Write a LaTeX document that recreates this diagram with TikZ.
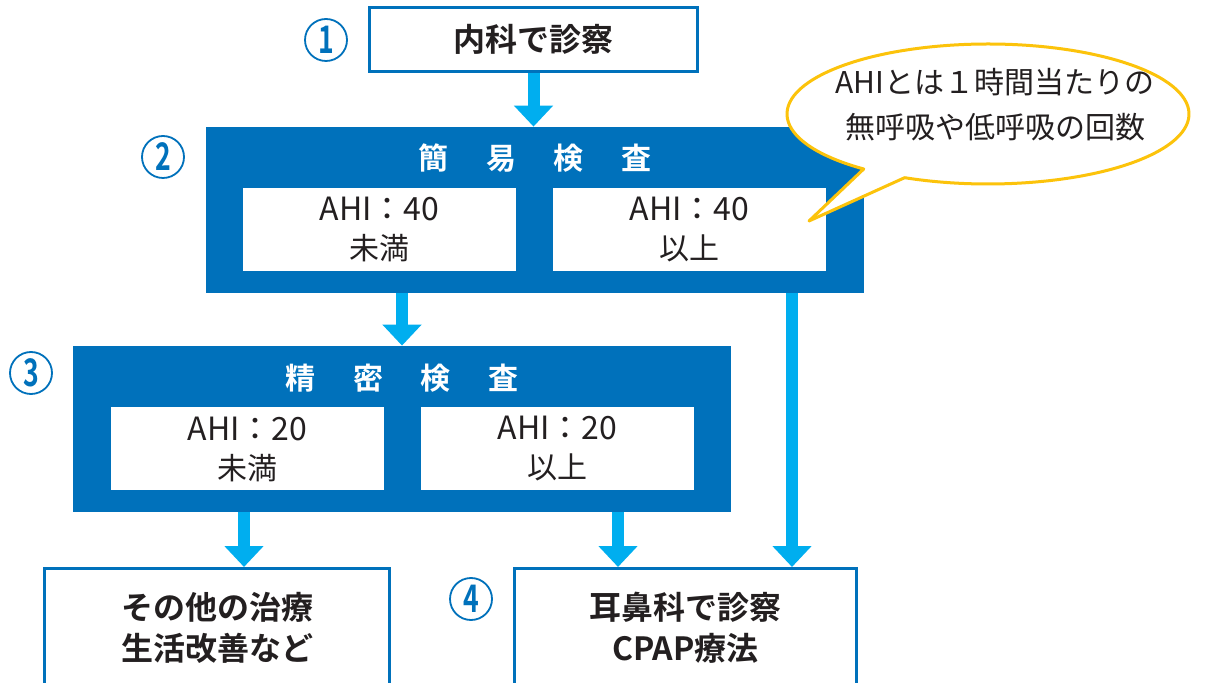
\documentclass[tikz,border=0pt]{standalone}
\usepackage{fontspec}
\setmainfont{Noto Sans CJK JP}[BoldFont={Noto Sans CJK JP Bold}]
\usetikzlibrary{arrows.meta,calc}
\definecolor{boxblue}{HTML}{0071BB}
\definecolor{arrowcyan}{HTML}{00AEEF}
\definecolor{bubbleyellow}{HTML}{FCC30B}
\definecolor{inkgray}{HTML}{231F20}
\tikzset{
  flow/.style={line width=6pt, arrowcyan, -{Triangle[width=19pt,length=10.5pt]}},
  outlinebox/.style={draw=boxblue, line width=1.5pt, fill=white, text=inkgray,
    font=\bfseries\fontsize{16}{20.5}\selectfont, align=center, inner sep=0pt},
  testbox/.style={fill=boxblue, minimum width=329pt, minimum height=83pt, inner sep=0pt},
  resultbox/.style={fill=white, minimum width=136.5pt, minimum height=41.5pt, inner sep=0pt,
    text=inkgray, font=\fontsize{15}{19.5}\selectfont, align=center},
  testtitle/.style={text=white, font=\bfseries\fontsize{15}{15}\selectfont},
  stepnum/.style={circle, draw=boxblue, line width=0.9pt, minimum size=21pt, inner sep=0pt,
    text=boxblue, font=\bfseries\fontsize{19}{19}\selectfont},
  bubble/.style={draw=bubbleyellow, line width=1.5pt, fill=white, line join=round}
}
\newcommand{\ahi}[1]{{\fontsize{16}{19.5}\selectfont AHI：#1}}

\begin{document}
\begin{tikzpicture}[x=0.5pt, y=-0.5pt]
\clip (0,0) rectangle (1209,683);
\fill[white] (0,0) rectangle (1209,683);

% step 1
\node[outlinebox, minimum width=164pt, minimum height=32pt] (naika) at (533.5,39.5) {内科で診察};
\node[stepnum] (n1) at (326,40) {\scalebox{.7}[1]{1}};

% step 2
\node[testbox] (kani) at (535,210) {};
\node[testtitle] (kanititle) at (535,158) {簡\hspace{1.25em}易\hspace{1.25em}検\hspace{1.25em}査};
\node[resultbox] (miman1) at (379.5,229.5) {\ahi{40}\\未満};
\node[resultbox] (ijou1) at (689.5,229.5) {\ahi{40}\\以上};
\node[stepnum] (n2) at (163,157) {\scalebox{.7}[1]{2}};

% step 3
\node[testbox] (seimitsu) at (402,429) {};
\node[testtitle] (seimitsutitle) at (402,378) {精\hspace{1.25em}密\hspace{1.25em}検\hspace{1.25em}査};
\node[resultbox] (miman2) at (247.5,449) {\ahi{20}\\未満};
\node[resultbox] (ijou2) at (557.5,449) {\ahi{20}\\以上};
\node[stepnum] (n3) at (31,373) {\scalebox{.7}[1]{3}};

% step 4
\node[outlinebox, minimum width=172.5pt, minimum height=59pt] (sonota) at (217,627.5) {その他の治療\\生活改善など};
\node[outlinebox, minimum width=171pt, minimum height=59pt] (jibi) at (685.5,627.5) {耳鼻科で診察\\CPAP療法};
\node[stepnum] (n4) at (471,599) {\scalebox{.7}[1]{4}};

% arrows
\coordinate (toSonota) at ([xshift=13.5pt]sonota.north);
\coordinate (toJibiL) at ([xshift=-33.75pt]jibi.north);
\coordinate (toJibiR) at ([xshift=53.25pt]jibi.north);
\draw[flow] (naika.south) -- (naika.south |- kani.north);
\draw[flow] (kani.south -| seimitsu.north) -- (seimitsu.north);
\draw[flow] (kani.south -| toJibiR) -- (toJibiR);
\draw[flow] (seimitsu.south -| toSonota) -- (toSonota);
\draw[flow] (seimitsu.south -| toJibiL) -- (toJibiL);

% speech bubble
\coordinate (bc) at (988,114);
\coordinate (tip) at (809,221);
\draw[bubble] (tip) -- ($(bc)+(128.2:201 and 70)$)
  arc[start angle=128.2, end angle=474.5, x radius=201, y radius=70] -- cycle;
\node[text=inkgray, font=\fontsize{15}{22.5}\selectfont, align=center] (bubbletext) at (995,104.5)
  {AHIとは１時間当たりの\\無呼吸や低呼吸の回数};
\end{tikzpicture}
\end{document}
